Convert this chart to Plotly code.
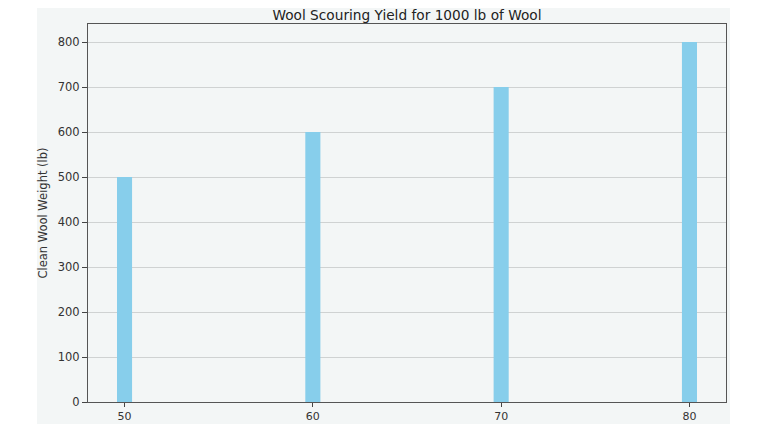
import plotly.graph_objects as go

# yield percentages and clean wool weights
yield_pct = [50, 60, 70, 80]
clean_weight = [500, 600, 700, 800]
y_ticks = [0, 100, 200, 300, 400, 500, 600, 700, 800]

bg = "#f3f6f6"
font = "DejaVu Sans"

bars = go.Bar(
    x=yield_pct,
    y=clean_weight,
    width=0.8,
    marker=dict(color="skyblue", line=dict(width=0)),
    showlegend=False,
)

# page body has an 8px margin, so the figure is kept a bit smaller
layout = go.Layout(
    width=752,
    height=416,
    margin=dict(l=80, r=34, t=16, b=22),
    paper_bgcolor="white",
    plot_bgcolor=bg,
    font=dict(family=font, size=11.5, color="#333333"),
    title=dict(
        text="Wool Scouring Yield for 1000 lb of Wool",
        x=0.5, xref="paper", xanchor="center",
        y=0.983, yref="container", yanchor="middle",
        font=dict(size=13.7, color="#222222"),
    ),
    xaxis=dict(
        range=[48.06, 81.94],
        tickvals=yield_pct,
        showgrid=False,
        zeroline=False,
        ticks="outside",
        ticklen=4,
        tickcolor="#444444",
        tickfont=dict(size=11),
        showline=True,
        linecolor="#555555",
        linewidth=1,
        mirror=True,
        automargin=False,
    ),
    yaxis=dict(
        range=[0, 840],
        tickvals=y_ticks,
        showgrid=True,
        gridcolor="#cfd2d2",
        gridwidth=1,
        zeroline=False,
        ticks="outside",
        ticklen=5,
        tickcolor="#444444",
        showline=True,
        linecolor="#555555",
        linewidth=1,
        mirror=True,
        automargin=False,
        title=dict(text="Clean Wool Weight (lb)", standoff=7, font=dict(size=11.5)),
    ),
    shapes=[
        dict(
            type="rect", xref="paper", yref="paper",
            x0=-0.08, x1=1.0063, y0=-0.08, y1=1.1,
            fillcolor=bg, line=dict(width=0), layer="below",
        )
    ],
)

fig = go.Figure(data=[bars], layout=layout)
fig.write_html("out.html")
